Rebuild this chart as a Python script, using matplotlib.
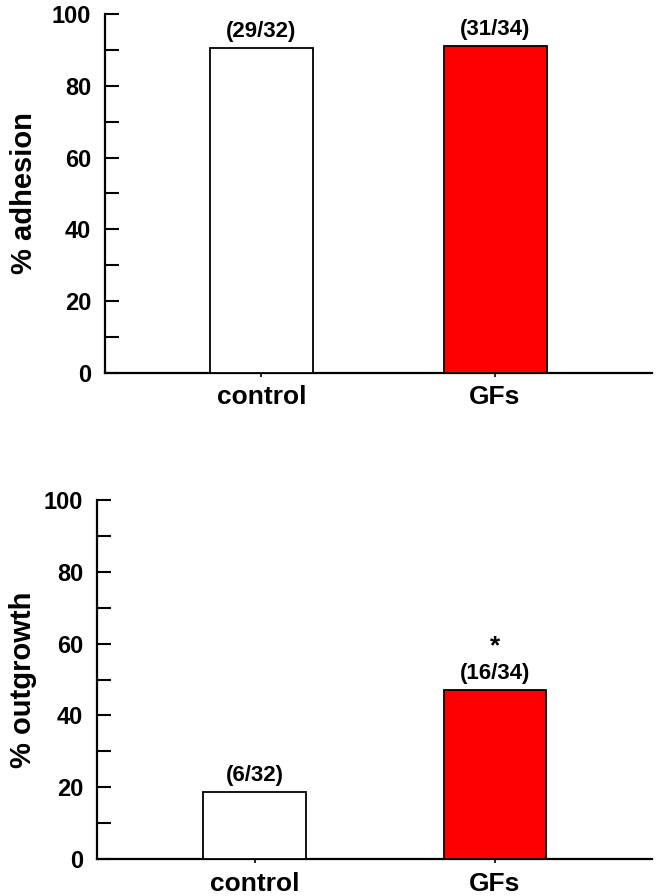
import matplotlib
matplotlib.use("Agg")
import matplotlib.pyplot as plt
from matplotlib.ticker import MultipleLocator

plt.rcParams['font.family'] = ['Liberation Sans', 'DejaVu Sans']
plt.rcParams['font.weight'] = 'bold'

categories = ["control", "GFs"]
adhesion_pct = [90.6, 91.2]
adhesion_labels = ["(29/32)", "(31/34)"]
outgrowth_pct = [18.75, 47.06]
outgrowth_labels = ["(6/32)", "(16/34)"]
outgrowth_sig = ["", "*"]
bar_colors = ["white", "#FF0000"]

W, H = 658, 896
fig = plt.figure(figsize=(W / 100, H / 100), dpi=100)

def make_panel(rect, values, labels, ylabel, xlim, width, label_x, sig=None):
    ax = fig.add_axes(rect)
    x = list(range(len(categories)))
    ax.bar(x, values, width=width, color=bar_colors, edgecolor="black", linewidth=1.3, zorder=3)
    ax.set_xlim(*xlim)
    ax.set_ylim(0, 100)
    ax.spines['top'].set_visible(False)
    ax.spines['right'].set_visible(False)
    ax.spines['left'].set_linewidth(1.6)
    ax.spines['bottom'].set_linewidth(1.6)
    ax.spines['left'].set_bounds(0, 100)
    ax.yaxis.set_major_locator(MultipleLocator(20))
    ax.yaxis.set_minor_locator(MultipleLocator(10))
    ax.tick_params(axis='y', which='both', direction='in', length=10, width=1.5, pad=10, labelsize=17)
    ax.tick_params(axis='x', direction='out', length=3, width=1.2, pad=6, labelsize=19)
    ax.set_xticks(x)
    ax.set_xticklabels(categories, fontweight='bold')
    for lab in ax.get_yticklabels():
        lab.set_fontweight('bold')
    ax.set_ylabel(ylabel, fontsize=21, fontweight='bold')
    ax.yaxis.set_label_coords(label_x, 0.5)
    for i, (v, t) in enumerate(zip(values, labels)):
        ax.annotate(t, (i, v), xytext=(0, 4), textcoords='offset points',
                    ha='center', va='bottom', fontsize=16, fontweight='bold')
        if sig and sig[i]:
            ax.annotate(sig[i], (i, v), xytext=(0, 23), textcoords='offset points',
                        ha='center', va='bottom', fontsize=19, fontweight='bold')
    return ax

top_rect = [105 / W, 1 - 373 / H, (652 - 105) / W, 359 / H]
bot_rect = [97 / W, 1 - 859 / H, (652 - 97) / W, 359 / H]

make_panel(top_rect, adhesion_pct, adhesion_labels, "% adhesion", (-0.670, 1.672), 0.441, -0.1225)
make_panel(bot_rect, outgrowth_pct, outgrowth_labels, "% outgrowth", (-0.655, 1.653), 0.428, -0.108, sig=outgrowth_sig)

fig.savefig("out.png", dpi=100)
